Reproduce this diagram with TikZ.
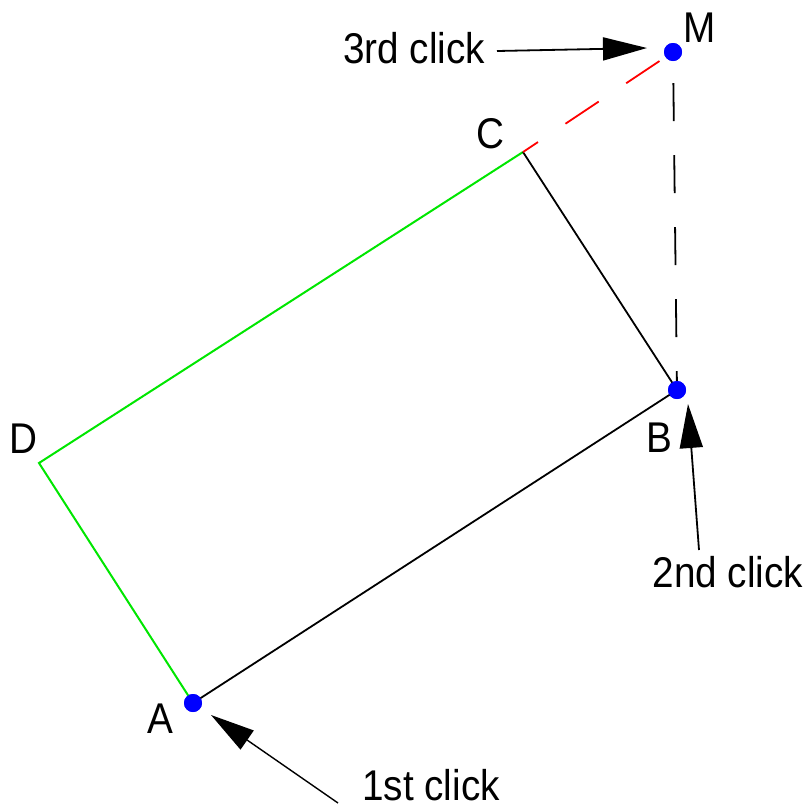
\documentclass[tikz,border=0pt]{standalone}
\usepackage{fontspec}
\setmainfont{Liberation Sans}[FakeStretch=0.9]
\usetikzlibrary{arrows.meta}
\begin{document}
\begin{tikzpicture}[x=1pt,y=-1pt,
  dot/.style={circle,fill=blue,draw=none,minimum size=18pt,inner sep=0pt},
  lab/.style={anchor=base,inner sep=0pt,font=\fontsize{43}{50}\selectfont},
  blk/.style={draw=black,line width=1.8pt},
  grn/.style={draw={rgb,255:red,0;green,230;blue,0},line width=2pt},
  reddash/.style={draw=red,line width=1.8pt,dash pattern=on 40pt off 33pt,dash phase=22pt},
  blkdash/.style={draw=black,line width=1.8pt,dash pattern=on 38pt off 34pt,dash phase=50pt},
  arr/.style={draw=black,line width=1.8pt,-{Triangle[length=44pt,width=23pt]}}]
\useasboundingbox (0,0) rectangle (809,807);
% vertices
\coordinate (C) at (523,152);
\coordinate (D) at (39,463);
\node[dot] (A) at (193,703) {};
\node[dot] (B) at (677,390) {};
\node[dot] (M) at (673,52) {};
% rectangle edges
\draw[grn] (A.center) -- (D) -- (C);
\draw[blk] (A.center) -- (B.center) -- (C);
\draw[reddash] (C) -- (M);
\draw[blkdash] (M) -- (B);
% redraw dots on top
\node[dot] at (A) {};
\node[dot] at (B) {};
\node[dot] at (M) {};
% labels
\node[lab] (lM) at (700,42) {M};
\node[lab] (lC) at (490,148) {C};
\node[lab] (lD) at (23,453) {D};
\node[lab] (lB) at (659,452) {B};
\node[lab] (lA) at (160,733) {A};
\node[lab] (l3) at (414,63) {3rd click};
\node[lab] (l2) at (728,587) {2nd click};
\node[lab] (l1) at (431,800) {1st click};
% arrows
\coordinate (t3) at (497,51);
\coordinate (h3) at (647,48);
\coordinate (t2) at (699,550);
\coordinate (h2) at (688,404);
\coordinate (t1) at (338,803);
\coordinate (h1) at (211,715);
\draw[arr] (t3) -- (h3);
\draw[arr] (t2) -- (h2);
\draw[arr,line width=1.4pt] (t1) -- (h1);
\end{tikzpicture}
\end{document}
